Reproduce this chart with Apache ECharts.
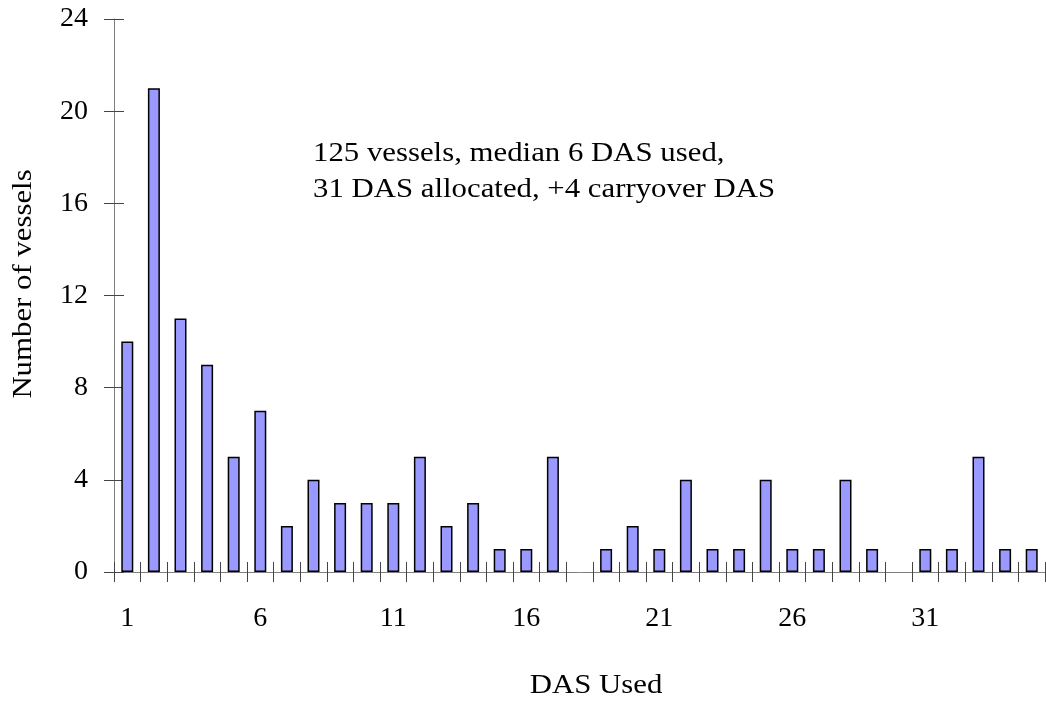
<!DOCTYPE html>
<html>
<head>
<meta charset="utf-8">
<script src="https://cdn.jsdelivr.net/npm/echarts@6/dist/echarts.min.js"></script>
<style>
  html, body { margin: 0; padding: 0; background: #fff; }
  #chart { width: 1046px; height: 704px; }
</style>
</head>
<body>
<div id="chart"></div>
<script>
// DAS used (days) on the x axis
const dasDays = [];
for (let d = 1; d <= 35; d++) dasDays.push(String(d));

// number of vessels per DAS value
const vesselCounts = [10, 21, 11, 9, 5, 7, 2, 4, 3, 3, 3, 5, 2, 3, 1, 1, 5, 0, 1, 2,
                      1, 4, 1, 1, 4, 1, 1, 4, 1, 0, 1, 1, 5, 1, 1];

const yTicks = [0, 4, 8, 12, 16, 20, 24];
const noteLines = ['125 vessels, median 6 DAS used,', '31 DAS allocated, +4 carryover DAS'];

const serif = '"Liberation Serif", "Times New Roman", serif';
// the original text is a bit wider than Liberation Serif at the same height
const stretch = 1.1;
const chart = echarts.init(document.getElementById('chart'));

chart.setOption({
  animation: false,
  backgroundColor: '#fff',
  textStyle: { fontFamily: serif },
  grid: { left: 114, right: 1, top: 19, bottom: 132, containLabel: false },
  xAxis: [
    {
      type: 'category',
      data: dasDays,
      boundaryGap: true,
      axisLine: { lineStyle: { color: '#808080', width: 1 } },
      axisTick: { show: true, interval: 0, length: 10, lineStyle: { color: '#444' } },
      axisLabel: { interval: 4, margin: 33, fontFamily: serif, fontSize: 28, color: '#000' }
    },
    {
      // inner half of the crossing ticks
      type: 'category',
      data: dasDays,
      position: 'bottom',
      offset: 0,
      boundaryGap: true,
      axisLine: { show: false },
      axisTick: { show: true, inside: true, interval: 0, length: 10, lineStyle: { color: '#444' } },
      axisLabel: { show: false }
    }
  ],
  yAxis: [
    {
      type: 'value',
      min: yTicks[0],
      max: yTicks[yTicks.length - 1],
      interval: 4,
      splitLine: { show: false },
      axisLine: { show: true, lineStyle: { color: '#808080', width: 1 } },
      axisTick: { show: true, length: 10, lineStyle: { color: '#444' } },
      axisLabel: { margin: 26, fontFamily: serif, fontSize: 28, color: '#000' }
    },
    {
      type: 'value',
      position: 'left',
      offset: 0,
      min: yTicks[0],
      max: yTicks[yTicks.length - 1],
      interval: 4,
      splitLine: { show: false },
      axisLine: { show: false },
      axisTick: { show: true, inside: true, length: 10, lineStyle: { color: '#444' } },
      axisLabel: { show: false }
    }
  ],
  series: [
    {
      type: 'bar',
      // empty days get no bar outline at all
      data: vesselCounts.map(v => (v === 0 ? null : v)),
      barWidth: 12,
      itemStyle: { color: '#9999FF', borderColor: '#000', borderWidth: 1.5 }
    }
  ],
  graphic: [
    {
      type: 'text',
      x: 24,
      y: 284,
      rotation: Math.PI / 2,
      scaleX: stretch,
      style: {
        text: 'Number of vessels',
        font: '28px ' + serif,
        fill: '#000',
        align: 'center',
        verticalAlign: 'middle'
      }
    },
    {
      type: 'text',
      x: 596,
      y: 686,
      scaleX: stretch,
      style: {
        text: 'DAS Used',
        font: '28px ' + serif,
        fill: '#000',
        align: 'center',
        verticalAlign: 'middle'
      }
    },
    {
      type: 'text',
      x: 313,
      y: 136,
      scaleX: stretch,
      style: {
        text: noteLines.join('\n'),
        font: '28px ' + serif,
        lineHeight: 36,
        fill: '#000'
      }
    }
  ]
});
</script>
</body>
</html>
